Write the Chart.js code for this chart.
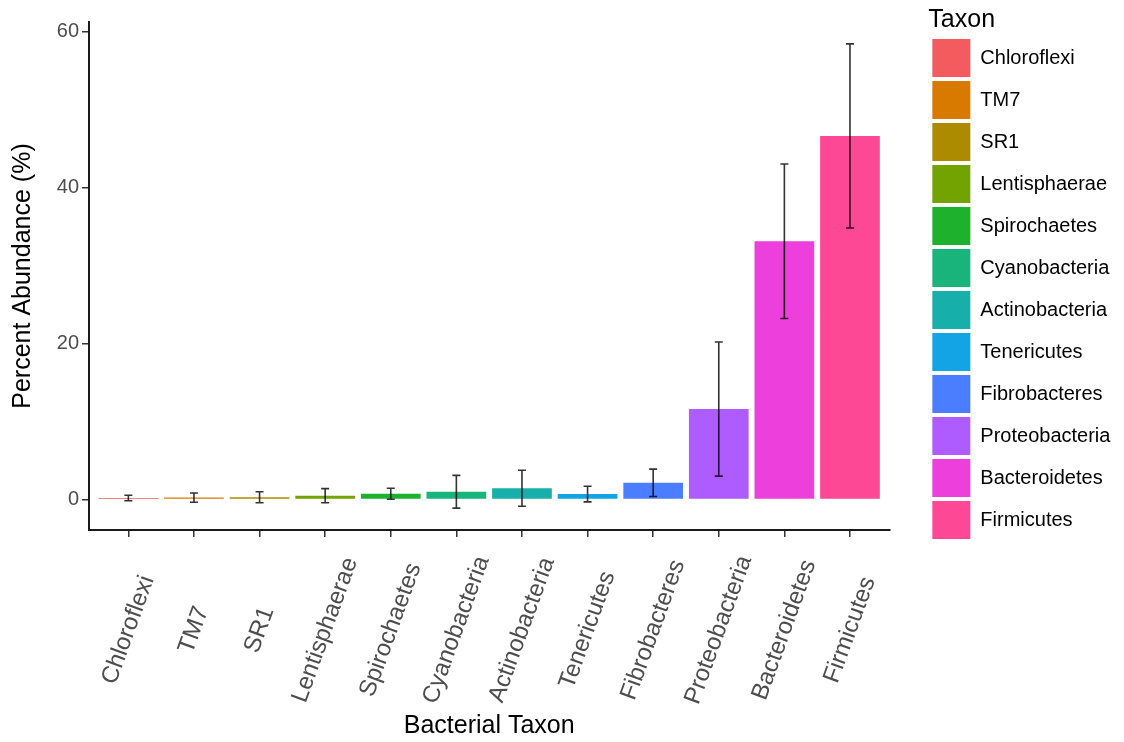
<!DOCTYPE html>
<html>
<head>
<meta charset="utf-8">
<script src="https://cdn.jsdelivr.net/npm/chart.js@4.4.0/dist/chart.umd.min.js"></script>
<style>
html, body { margin: 0; padding: 0; background: #fff; }
#wrap { width: 1124px; height: 742px; position: relative; }
</style>
</head>
<body>
<div id="wrap"><canvas id="abundanceChart"></canvas></div>
<script>
var taxa = ["Chloroflexi", "TM7", "SR1", "Lentisphaerae", "Spirochaetes", "Cyanobacteria",
            "Actinobacteria", "Tenericutes", "Fibrobacteres", "Proteobacteria", "Bacteroidetes", "Firmicutes"];
var meanAbundance = [0.2, 0.25, 0.3, 0.5, 0.75, 1.0, 1.45, 0.7, 2.15, 11.6, 33.1, 46.6];
var errAbundance = [0.35, 0.6, 0.7, 0.9, 0.7, 2.1, 2.3, 1.0, 1.75, 8.6, 9.9, 11.8];
var taxonColors = ["#F35B5E", "#D87A00", "#AD8B00", "#72A300", "#1DB12E", "#19B47B",
                   "#16AFAA", "#13A4E6", "#4A7DFF", "#AE5CFF", "#EC3FDC", "#FD4896"];
var yTicks = [0, 20, 40, 60];

Chart.defaults.font.family = '"Liberation Sans", Arial, Helvetica, sans-serif';

// error bars, drawn through the chart scales
var errorBarPlugin = {
	id: "errorBars",
	afterDatasetsDraw: function(chart){
		var ctx = chart.ctx, xs = chart.scales.x, ys = chart.scales.y;
		ctx.save();
		ctx.strokeStyle = "rgba(0,0,0,0.8)";
		ctx.lineWidth = 1.6;
		for (var i=0; i<taxa.length; i++){
			var x = xs.getPixelForValue(i);
			var top = ys.getPixelForValue(meanAbundance[i] + errAbundance[i]);
			var bot = ys.getPixelForValue(meanAbundance[i] - errAbundance[i]);
			ctx.beginPath();
			ctx.moveTo(x, top); ctx.lineTo(x, bot);
			ctx.moveTo(x-4, top); ctx.lineTo(x+4, top);
			ctx.moveTo(x-4, bot); ctx.lineTo(x+4, bot);
			ctx.stroke();
		}
		ctx.restore();
	}
};

// slanted category labels, centred on each tick like ggplot
var slantedLabelPlugin = {
	id: "slantedLabels",
	afterDraw: function(chart){
		var ctx = chart.ctx, xs = chart.scales.x;
		var yc = chart.chartArea.bottom + 100;
		ctx.save();
		ctx.font = '24px "Liberation Sans", Arial, sans-serif';
		ctx.fillStyle = "#4d4d4d";
		ctx.textAlign = "center";
		ctx.textBaseline = "middle";
		for (var i=0; i<taxa.length; i++){
			ctx.save();
			ctx.translate(xs.getPixelForValue(i), yc);
			ctx.rotate(-70 * Math.PI / 180);
			ctx.fillText(taxa[i], 0, 0);
			ctx.restore();
		}
		ctx.restore();
	}
};

var barData = [];
for (var i=0; i<taxa.length; i++){
	barData.push({x: i, y: meanAbundance[i]});
}

new Chart(document.getElementById("abundanceChart"), {
	type: "bar",
	data: {
		datasets: [{
			label: "Taxon",
			data: barData,
			backgroundColor: taxonColors,
			borderWidth: 0,
			barPercentage: 0.91,
			categoryPercentage: 1.0
		}]
	},
	options: {
		responsive: true,
		maintainAspectRatio: false,
		animation: false,
		layout: { padding: { top: 0, right: 10, bottom: 0, left: 0 } },
		scales: {
			x: {
				type: "linear",
				min: -0.6,
				max: 11.6,
				offset: false,
				afterBuildTicks: function(s){ s.ticks = taxa.map(function(t, i){ return {value: i}; }); },
				afterFit: function(s){ s.height = 212; },
				ticks: { display: false },
				grid: { offset: false, drawOnChartArea: false, drawTicks: true, tickLength: 7, color: "#333", lineWidth: 1.5 },
				border: { display: true, color: "#1a1a1a", width: 2 },
				title: { display: true, text: "Bacterial Taxon", color: "#000", font: { size: 25 }, padding: { top: 4, bottom: 1 } }
			},
			topgap: {
				type: "linear",
				position: "top",
				display: true,
				afterFit: function(s){ s.height = 22; },
				ticks: { display: false },
				grid: { display: false },
				border: { display: false }
			},
			y: {
				min: -3.9,
				max: 61.2,
				afterBuildTicks: function(s){ s.ticks = yTicks.map(function(v){ return {value: v}; }); },
				afterFit: function(s){ s.width = 89; },
				ticks: { color: "#4d4d4d", font: { size: 20 }, padding: 3 },
				grid: { drawOnChartArea: false, drawTicks: true, tickLength: 7, color: "#333", lineWidth: 1.5 },
				border: { display: true, color: "#1a1a1a", width: 2 },
				title: { display: true, text: "Percent Abundance (%)", color: "#000", font: { size: 25 }, padding: { top: 8, bottom: 8 } }
			},
			gap: {
				type: "linear",
				position: "right",
				display: true,
				afterFit: function(s){ s.width = 39; },
				ticks: { display: false },
				grid: { display: false },
				border: { display: false }
			}
		},
		plugins: {
			tooltip: { enabled: false },
			legend: {
				position: "right",
				align: "start",
				title: { display: true, position: "start", text: "Taxon", color: "#000", font: { size: 25 }, padding: { top: 8, bottom: -3 } },
				labels: {
					boxWidth: 38,
					boxHeight: 38,
					padding: 4,
					color: "#1a1a1a",
					font: { size: 20 },
					generateLabels: function(chart){
						return taxa.map(function(t, i){
							return { text: t, fillStyle: taxonColors[i], strokeStyle: taxonColors[i], lineWidth: 0, hidden: false, index: i };
						});
					}
				}
			}
		}
	},
	plugins: [errorBarPlugin, slantedLabelPlugin]
});
</script>
</body>
</html>
